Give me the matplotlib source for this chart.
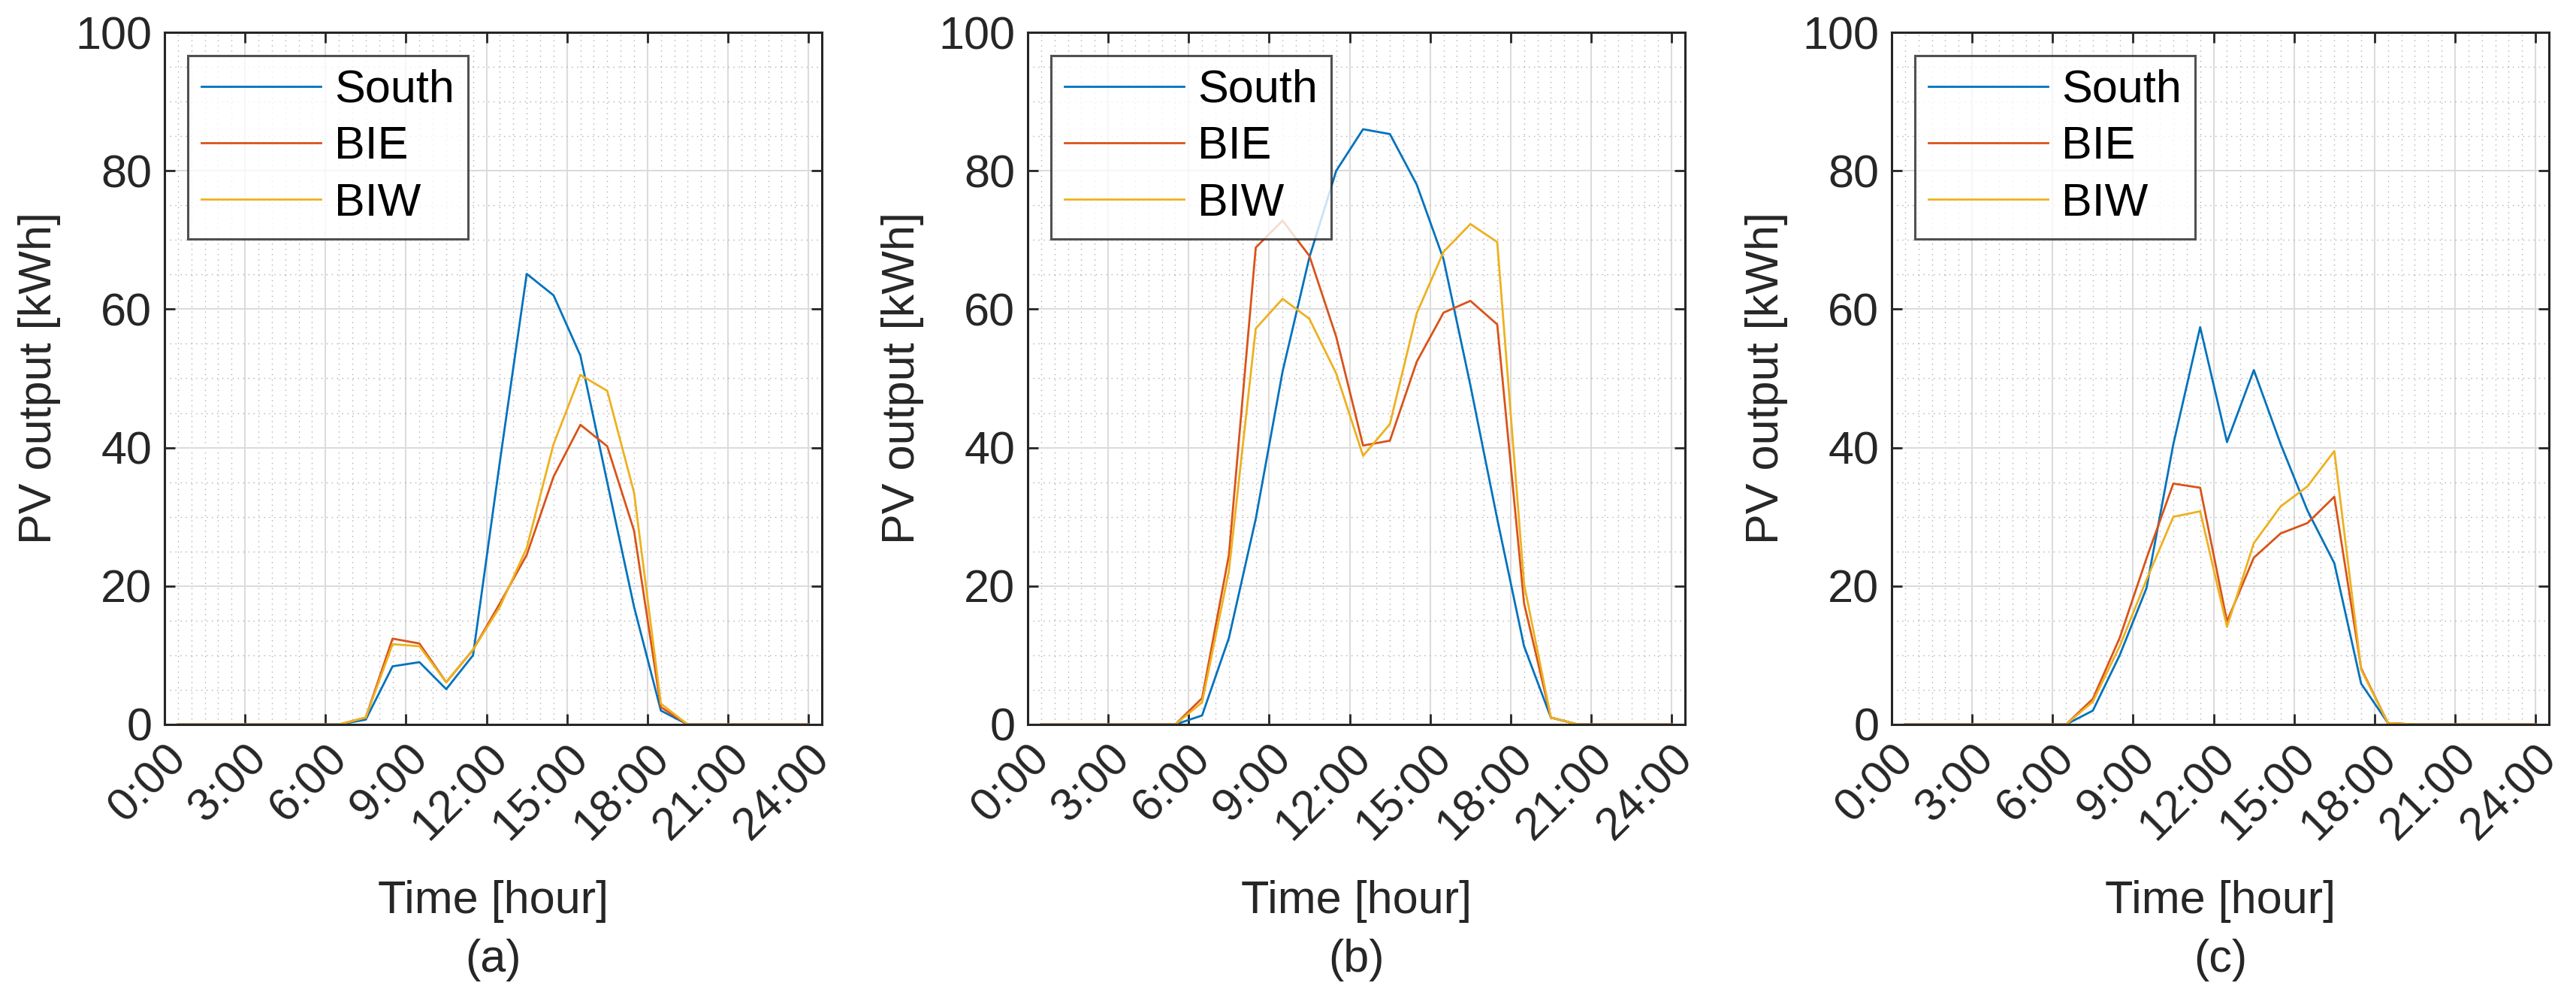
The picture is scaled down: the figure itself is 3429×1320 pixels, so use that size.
import numpy as np
import matplotlib
matplotlib.use("Agg")
import matplotlib.pyplot as plt
from matplotlib.ticker import MultipleLocator

hours = [0.5, 1.5, 2.5, 3.5, 4.5, 5.5, 6.5, 7.5, 8.5, 9.5, 10.5, 11.5, 12.5,
         13.5, 14.5, 15.5, 16.5, 17.5, 18.5, 19.5, 20.5, 21.5, 22.5, 23.5, 24.0]
tick_hours = [0, 3, 6, 9, 12, 15, 18, 21, 24]
tick_labels = ["0:00", "3:00", "6:00", "9:00", "12:00", "15:00", "18:00", "21:00", "24:00"]
series_names = ["South", "BIE", "BIW"]
panel_labels = ["(a)", "(b)", "(c)"]

south_a = [0, 0, 0, 0, 0, 0, 0, 0.7, 8.4, 9.0, 5.1, 10.0, 38, 65.1, 62, 53.3, 35, 17, 2, 0, 0, 0, 0, 0, 0]
bie_a   = [0, 0, 0, 0, 0, 0, 0, 1.0, 12.4, 11.7, 6.1, 10.8, 17.5, 24.5, 35.8, 43.3, 40.2, 28, 2.5, 0, 0, 0, 0, 0, 0]
biw_a   = [0, 0, 0, 0, 0, 0, 0, 1.0, 11.6, 11.3, 6.1, 10.8, 17, 25.5, 40.5, 50.5, 48.2, 33.5, 3, 0, 0, 0, 0, 0, 0]

south_b = [0, 0, 0, 0, 0, 0, 1.3, 12.5, 29.7, 51, 67.5, 80, 86, 85.3, 78, 67.2, 49, 29.7, 11.3, 1.0, 0, 0, 0, 0, 0]
bie_b   = [0, 0, 0, 0, 0, 0, 3.8, 24.5, 68.9, 72.8, 67.7, 56, 40.3, 41, 52.4, 59.5, 61.2, 57.8, 17.5, 1.0, 0, 0, 0, 0, 0]
biw_b   = [0, 0, 0, 0, 0, 0, 3.2, 22.2, 57.2, 61.5, 58.6, 50.7, 38.8, 43.4, 59.4, 68.3, 72.3, 69.7, 20.3, 1.0, 0, 0, 0, 0, 0]

south_c = [0, 0, 0, 0, 0, 0, 0, 2.0, 10, 19.7, 40.5, 57.4, 40.8, 51.2, 40.5, 30.9, 23.3, 5.9, 0.2, 0, 0, 0, 0, 0, 0]
bie_c   = [0, 0, 0, 0, 0, 0, 0, 3.7, 12.5, 24, 34.8, 34.2, 14.9, 24.1, 27.6, 29.1, 32.9, 8.1, 0.2, 0, 0, 0, 0, 0, 0]
biw_c   = [0, 0, 0, 0, 0, 0, 0, 3.3, 11.3, 20.9, 30, 30.8, 14.1, 26.2, 31.5, 34.4, 39.5, 7.9, 0.2, 0, 0, 0, 0, 0, 0]

panels = [(south_a, bie_a, biw_a), (south_b, bie_b, biw_b), (south_c, bie_c, biw_c)]
colors = ["#0072BD", "#D95319", "#EDB120"]

plt.rcParams["font.family"] = "Liberation Sans"
W, H = 3430, 1320
fig = plt.figure(figsize=(W / 100, H / 100), dpi=100)
lefts = [219, 1368, 2518]
ax_w, top, bottom = 875, 43, 964

for i, (data, left) in enumerate(zip(panels, lefts)):
    ax = fig.add_axes([left / W, 1 - bottom / H, ax_w / W, (bottom - top) / H])
    for vals, name, c in zip(data, series_names, colors):
        ax.plot(hours, vals, color=c, lw=2.0, label=name)
    ax.set_xlim(0, 24.5)
    ax.set_ylim(0, 100)
    ax.set_xticks(tick_hours)
    ax.set_xticklabels(tick_labels, rotation=45, ha="right", rotation_mode="anchor")
    ax.set_yticks([0, 20, 40, 60, 80, 100])
    ax.xaxis.set_minor_locator(MultipleLocator(0.5))
    ax.yaxis.set_minor_locator(MultipleLocator(5))
    ax.grid(True, which="major", color="#dcdcdc", lw=1.5)
    ax.grid(True, which="minor", color="#b0b0b0", lw=1.0, ls=(0, (1, 4)))
    ax.set_axisbelow(True)
    ax.tick_params(which="major", direction="in", length=10, width=2, labelsize=44,
                   top=True, right=True, colors="#262626", pad=12)
    ax.tick_params(which="minor", length=0)
    for s in ax.spines.values():
        s.set_linewidth(2.2)
        s.set_color("#262626")
    ax.set_xlabel("Time [hour]", fontsize=44, color="#262626", labelpad=30)
    ax.set_ylabel("PV output [kWh]", fontsize=44, color="#262626", labelpad=14)
    leg = ax.legend(loc="upper left", fontsize=44, frameon=True, fancybox=False,
                    handlelength=2.6, borderpad=0.3, labelspacing=0.3,
                    handletextpad=0.3, borderaxespad=0.5)
    leg.get_frame().set_edgecolor("#262626")
    leg.get_frame().set_linewidth(2.2)
    fig.text((left + ax_w / 2) / W, 1 - 1278 / H, panel_labels[i], ha="center",
             va="center", fontsize=44, color="#262626")

fig.savefig("out.png", dpi=100)
